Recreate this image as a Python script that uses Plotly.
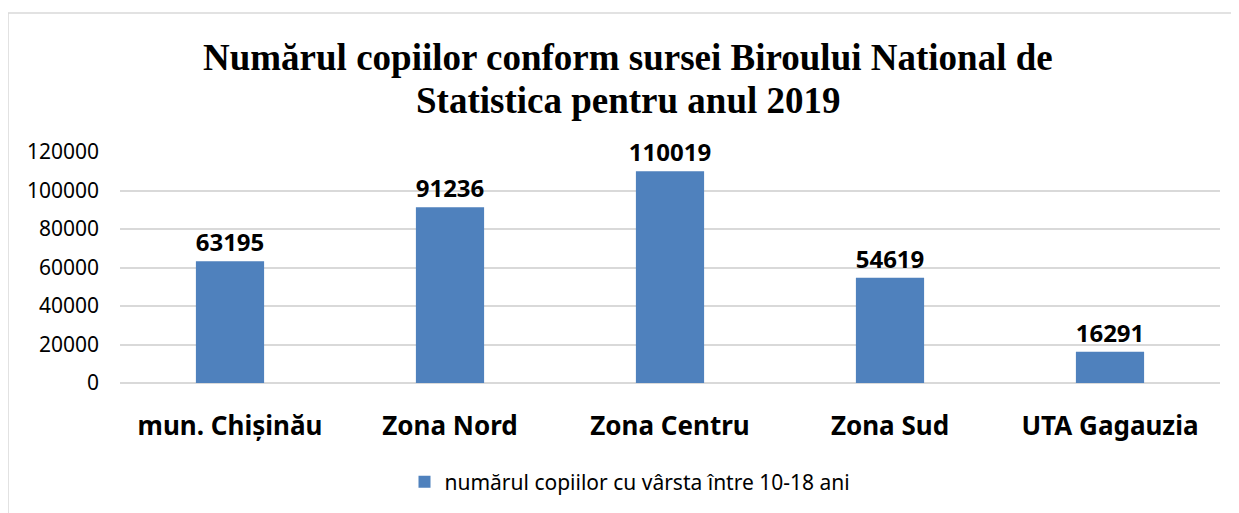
import plotly.graph_objects as go

categories = ["mun. Chișinău", "Zona Nord", "Zona Centru", "Zona Sud", "UTA Gagauzia"]
values = [63195, 91236, 110019, 54619, 16291]
series_name = "numărul copiilor cu vârsta între 10-18 ani"
title_lines = ["Numărul copiilor conform sursei Biroului National de", "Statistica pentru anul 2019"]
tick_vals = [0, 20000, 40000, 60000, 80000, 100000, 120000]

# page body has an 8px margin, so positions are offset by 8px
W, H = 1239, 513
L, R, T, B = 112, 27, 144, 138
PW, PH = W - L - R, H - T - B

fig = go.Figure()
fig.add_trace(go.Bar(
    x=categories, y=values, name=series_name,
    marker=dict(color="#4F81BD", line=dict(width=0)),
    text=[str(v) for v in values], textposition="outside", constraintext="none",
    textfont=dict(family="Noto Sans, Open Sans, sans-serif", size=24, color="#000000"),
    texttemplate="<b>%{text}</b>", cliponaxis=False,
    showlegend=True,
))

title_font = dict(family="Liberation Serif, Times New Roman, serif", size=37, color="#000000")
annotations = []
for i, line in enumerate(title_lines):
    cy = 49 + 43 * i  # center in paper pixels from top
    annotations.append(dict(
        text="<b>" + line + "</b>", xref="paper", yref="paper",
        x=(620 - L) / PW, xanchor="center",
        y=1 + (T - cy) / PH, yanchor="middle",
        showarrow=False, font=title_font))

fig.update_layout(
    width=W, height=H,
    margin=dict(l=L, r=R, t=T, b=B),
    paper_bgcolor="white", plot_bgcolor="white",
    bargap=0.69,
    annotations=annotations,
    xaxis=dict(showgrid=False, showline=False, ticks="", ticklabelstandoff=25,
               tickfont=dict(family="Noto Sans, Open Sans, sans-serif", size=26, color="#000000"),
               tickprefix="<b>", ticksuffix="</b>"),
    yaxis=dict(range=[0, 120000], tickvals=tick_vals, ticktext=[str(v) for v in tick_vals],
               showgrid=True, gridcolor="#D9D9D9", gridwidth=1.5, zeroline=True, zerolinecolor="#D9D9D9",
               zerolinewidth=1.5, showline=False, ticks="", ticklabelstandoff=20,
               tickfont=dict(family="Noto Sans, Open Sans, sans-serif", size=21, color="#000000")),
    legend=dict(orientation="h", x=(622 - L) / PW, xanchor="center", y=-99 / PH, yanchor="middle",
                font=dict(family="Noto Sans, Open Sans, sans-serif", size=21, color="#000000"),
                itemwidth=30),
    shapes=[dict(type="rect", xref="paper", yref="paper",
                 x0=(0 - L) / PW, x1=(1400 - L) / PW,
                 y0=-(700 - (H - B)) / PH, y1=1 + (T - 5) / PH,
                 line=dict(color="#D9D9D9", width=1.5), fillcolor="rgba(0,0,0,0)", layer="below")],
)

fig.write_html("out.html")
